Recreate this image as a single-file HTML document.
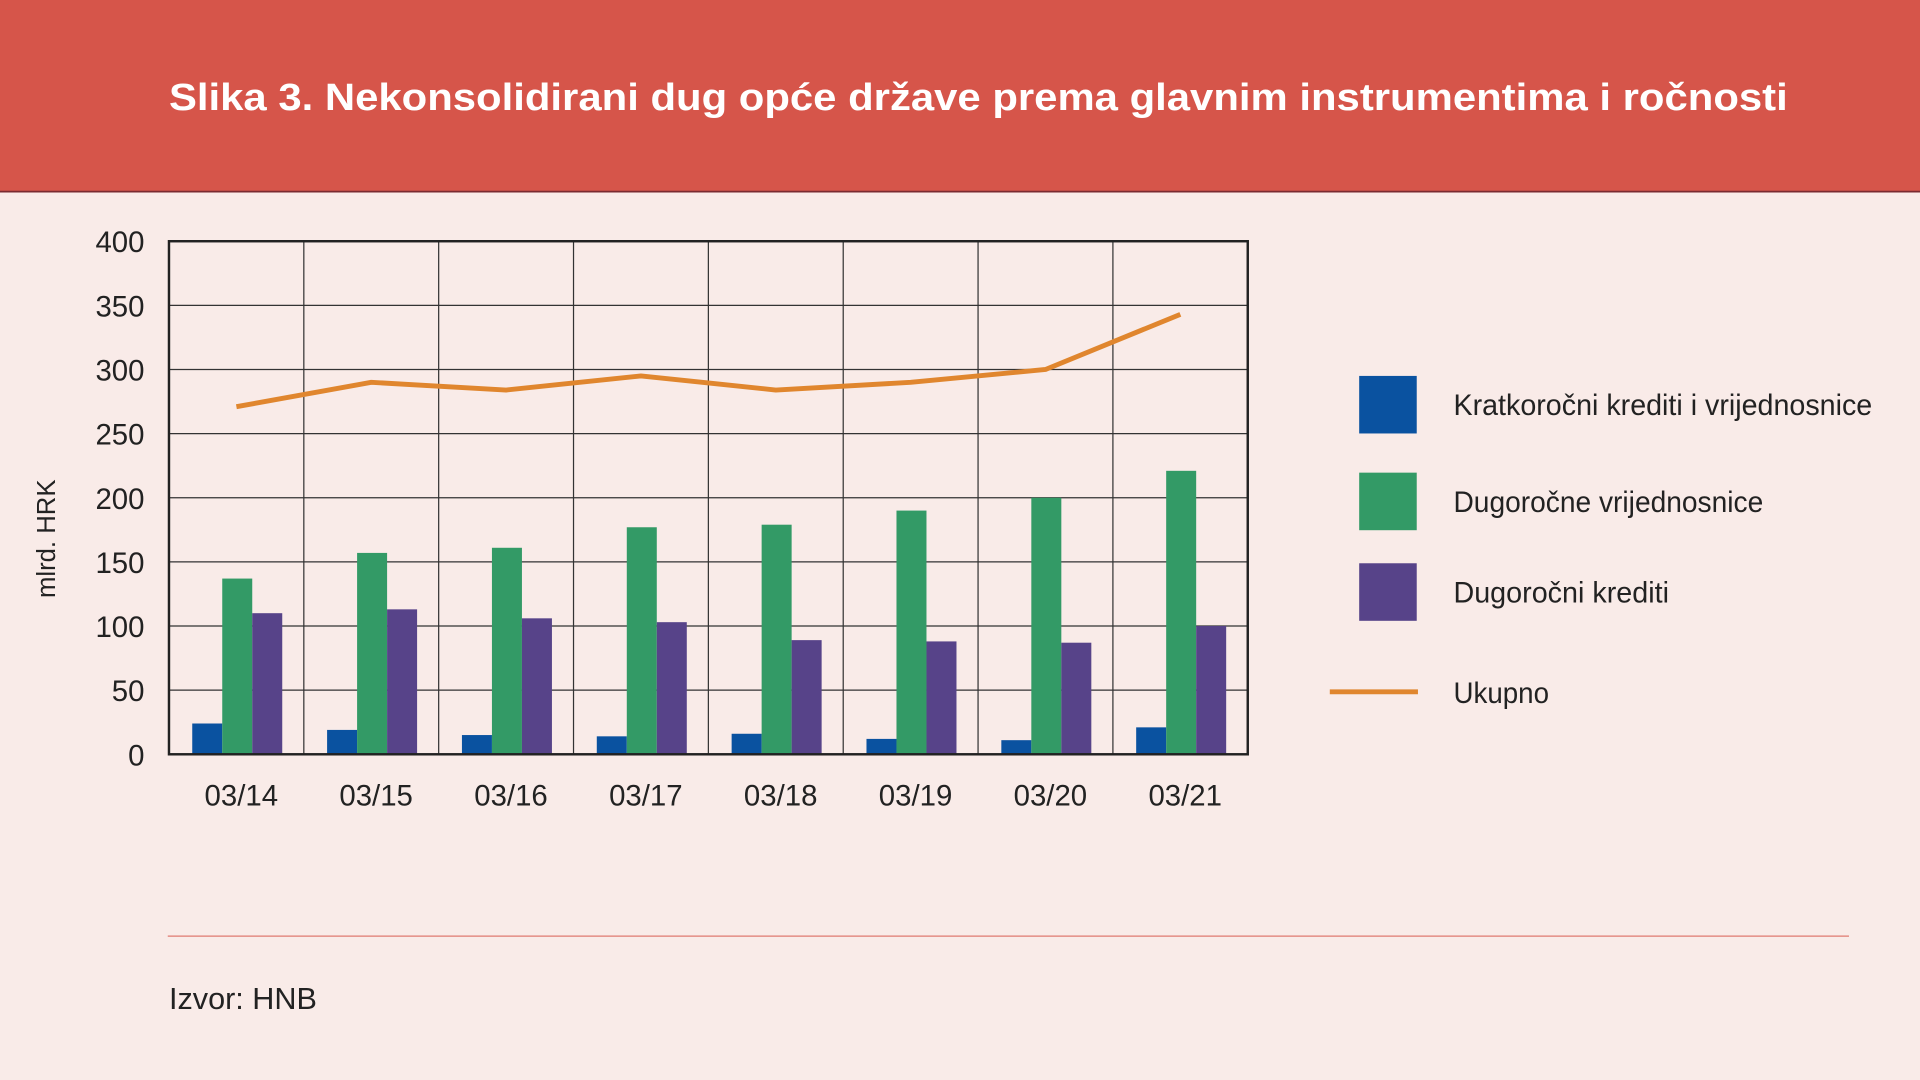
<!DOCTYPE html>
<html><head><meta charset="utf-8"><style>
html,body{margin:0;padding:0;background:#f9ebe8;}
svg{display:block;}
text{font-family:"Liberation Sans",sans-serif;}
</style></head><body>
<svg id="chart" width="1920" height="1080" viewBox="0 0 1568 882" xmlns="http://www.w3.org/2000/svg">
<rect x="0" y="0" width="1568" height="882" fill="#f9ebe8"/>
<rect x="0" y="0" width="1568" height="157" fill="#d6554a"/>
<line x1="0" y1="156.5" x2="1568" y2="156.5" stroke="#7a2a30" stroke-width="1.5"/>
<text x="138" y="90" fill="#ffffff" font-size="31" font-weight="bold" textLength="1322" lengthAdjust="spacingAndGlyphs">Slika 3. Nekonsolidirani dug opće države prema glavnim instrumentima i ročnosti</text>
<g id="plot"></g>
<text transform="translate(45,440) rotate(-90)" text-anchor="middle" font-size="21" fill="#222">mlrd. HRK</text>
<g>
<rect x="1110" y="307" width="47" height="47" fill="#0a52a0"/>
<text x="1187" y="339" font-size="24" fill="#222" textLength="342" lengthAdjust="spacingAndGlyphs">Kratkoročni krediti i vrijednosnice</text>
<rect x="1110" y="386" width="47" height="47" fill="#339a66"/>
<text x="1187" y="418" font-size="24" fill="#222" textLength="253" lengthAdjust="spacingAndGlyphs">Dugoročne vrijednosnice</text>
<rect x="1110" y="460" width="47" height="47" fill="#574389"/>
<text x="1187" y="492" font-size="24" fill="#222" textLength="176" lengthAdjust="spacingAndGlyphs">Dugoročni krediti</text>
<line x1="1086" y1="565" x2="1158" y2="565" stroke="#e0862e" stroke-width="4"/>
<text x="1187" y="574" font-size="24" fill="#222" textLength="78" lengthAdjust="spacingAndGlyphs">Ukupno</text>
</g>
<line x1="137" y1="764.5" x2="1510" y2="764.5" stroke="#e07a70" stroke-width="1"/>
<text x="138" y="824" font-size="25" fill="#222">Izvor: HNB</text>
</svg>
<script>
const categories = ["03/14","03/15","03/16","03/17","03/18","03/19","03/20","03/21"];
const shortTerm = [24,19,15,14,16,12,11,21];
const longSecurities = [137,157,161,177,179,190,200,221];
const longLoans = [110,113,106,103,89,88,87,100];
const total = [271,290,284,295,284,290,300,343];
const yTicks = [0,50,100,150,200,250,300,350,400];

const NS="http://www.w3.org/2000/svg";
const plot=document.getElementById('plot');
const L=138,R=1019,T=197,B=616,yMax=400;
const step=(R-L)/categories.length;
const y=v=>B-(v/yMax)*(B-T);
const xStart=i=>L+i*step;
function mk(tag,attrs){const e=document.createElementNS(NS,tag);for(const k in attrs)e.setAttribute(k,attrs[k]);plot.appendChild(e);return e;}
const bg=mk('rect',{x:L,y:T,width:R-L,height:B-T,fill:'#f9ebe8'});


yTicks.forEach(t=>{
  const g=mk('line',{x1:L,x2:R,y1:y(t),y2:y(t),stroke:'#333','stroke-width':1});
  
  
  const tx=mk('text',{x:118,y:y(t)+9,'text-anchor':'end','font-size':24,fill:'#222'});
  tx.textContent=t;
  
  
});
categories.forEach((c,i)=>{
  if(i>0){const v=mk('line',{x1:xStart(i),x2:xStart(i),y1:T,y2:B,stroke:'#333','stroke-width':1});
  
  }
  const tx=mk('text',{x:xStart(i)+step/2+4,y:658,'text-anchor':'middle','font-size':24,fill:'#222'});
  tx.textContent=c;
  
  
});
const series=[[shortTerm,'#0a52a0','bar-short-term'],[longSecurities,'#339a66','bar-long-term-securities'],[longLoans,'#574389','bar-long-term-loans']];
const bw=24.5;
series.forEach(([vals,col,name],s)=>{
  vals.forEach((v,i)=>{
    const r=mk('rect',{x:xStart(i)+19+s*bw,y:y(v),width:bw,height:B-y(v),fill:col});
    
    
  });
});
const pts=total.map((v,i)=>(xStart(i)+step/2)+','+y(v)).join(' ');
const pl=mk('polyline',{points:pts,fill:'none',stroke:'#e0862e','stroke-width':4,'stroke-linejoin':'round'});


const fr=mk('rect',{x:L,y:T,width:R-L,height:B-T,fill:'none',stroke:'#222','stroke-width':2});


</script>
</body></html>
